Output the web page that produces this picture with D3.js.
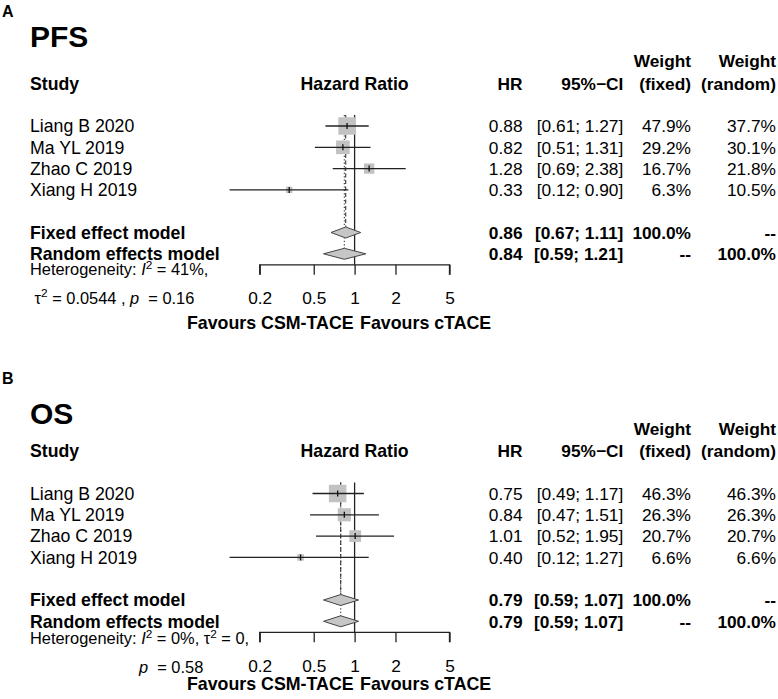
<!DOCTYPE html>
<html><head><meta charset="utf-8">
<script src="https://cdn.jsdelivr.net/npm/d3@7"></script>
<style>body{margin:0;background:#fff}text{font-family:"Liberation Sans",Arial,sans-serif;fill:#000;white-space:pre}</style>
</head><body><svg id="c" width="778" height="699"></svg>
<script>
const studies = ["Liang B 2020","Ma YL 2019","Zhao C 2019","Xiang H 2019"];
const ticks = [0.2,0.5,1,2,5];

const pfsHR = [0.88,0.82,1.28,0.33];
const pfsLo = [0.61,0.51,0.69,0.12];
const pfsHi = [1.27,1.31,2.38,0.90];
const pfsWF = [47.9,29.2,16.7,6.3];
const pfsWR = [37.7,30.1,21.8,10.5];
const pfsFixed = [0.86,0.67,1.11];
const pfsRandom = [0.84,0.59,1.21];

const osHR = [0.75,0.84,1.01,0.40];
const osLo = [0.49,0.47,0.52,0.12];
const osHi = [1.17,1.51,1.95,1.27];
const osWF = [46.3,26.3,20.7,6.6];
const osWR = [46.3,26.3,20.7,6.6];
const osFixed = [0.79,0.59,1.07];
const osRandom = [0.79,0.59,1.07];

const svg = d3.select("#c");
const x = d3.scaleLog().domain([0.2,5]).range([259.7,449.5]);
const f2 = d3.format(".2f"), f1 = d3.format(".1f");
const FS = 17.3, FL = 17.7;

function txt(g, s, xx, cy, opt={}) {
  const fs = opt.size || FS;
  return g.append("text").attr("x", xx).attr("y", cy + 0.36*fs)
    .attr("font-size", fs).attr("font-weight", opt.bold ? "bold" : null)
    .attr("text-anchor", opt.anchor || "start").text(s);
}

function panel(off, letter, letterY, title, titleY, favY, HR, Lo, Hi, WF, WR, FX, RD, het) {
  const g = svg.append("g");
  const y = d3.scaleLinear().domain([0,1]).range([126+off, 147.3+off]);
  txt(g, letter, 2, letterY, {bold:true, size:16});
  txt(g, title, 30, titleY, {bold:true, size:30});
  // headers
  txt(g, "Study", 30, y(-2), {bold:true, size:FL});
  txt(g, "Hazard Ratio", x(1), y(-2), {bold:true, anchor:"middle", size:FL});
  txt(g, "HR", 522.5, y(-2), {bold:true, anchor:"end"});
  txt(g, "95%\u2212CI", 623.3, y(-2), {bold:true, anchor:"end"});
  txt(g, "Weight", 691, y(-3.05), {bold:true, anchor:"end"});
  txt(g, "(fixed)", 691, y(-2), {bold:true, anchor:"end"});
  txt(g, "Weight", 776, y(-3.05), {bold:true, anchor:"end"});
  txt(g, "(random)", 776, y(-2), {bold:true, anchor:"end"});

  const top = y(0) - 11;
  const axisY = y(6) + 11;
  // reference lines
  g.append("line").attr("x1", x(1)).attr("x2", x(1)).attr("y1", top).attr("y2", axisY)
    .attr("stroke", "#222").attr("stroke-width", 1.3);
  g.append("line").attr("x1", x(FX[0])).attr("x2", x(FX[0])).attr("y1", top).attr("y2", y(5)-5.5)
    .attr("stroke", "#333").attr("stroke-width", 1.1).attr("stroke-dasharray", "4,2.5");
  g.append("line").attr("x1", x(RD[0])).attr("x2", x(RD[0])).attr("y1", top).attr("y2", y(6)-5.5)
    .attr("stroke", "#333").attr("stroke-width", 1.1).attr("stroke-dasharray", "1.2,2.2");

  const maxW = d3.max(WF);
  studies.forEach((s, i) => {
    const cy = y(i);
    txt(g, s, 30, cy, {size:FL});
    txt(g, f2(HR[i]), 522.5, cy, {anchor:"end"});
    txt(g, "[" + f2(Lo[i]) + "; " + f2(Hi[i]) + "]", 623.3, cy, {anchor:"end"});
    txt(g, f1(WF[i]) + "%", 691, cy, {anchor:"end"});
    txt(g, f1(WR[i]) + "%", 776, cy, {anchor:"end"});
    const side = 17.5 * Math.sqrt(WF[i] / maxW);
    g.append("rect").attr("x", x(HR[i]) - side/2).attr("y", cy - side/2)
      .attr("width", side).attr("height", side).attr("fill", "#c2c2c2");
    g.append("line").attr("x1", x(Lo[i])).attr("x2", x(Hi[i])).attr("y1", cy).attr("y2", cy)
      .attr("stroke", "#222").attr("stroke-width", 1.3);
    g.append("line").attr("x1", x(HR[i])).attr("x2", x(HR[i])).attr("y1", cy-3).attr("y2", cy+3)
      .attr("stroke", "#111").attr("stroke-width", 1.3);
  });

  const models = [["Fixed effect model", FX, 5, "100.0%", "--"], ["Random effects model", RD, 6, "--", "100.0%"]];
  models.forEach(([name, v, r, wf, wr]) => {
    const cy = y(r);
    txt(g, name, 30, cy, {bold:true, size:FL});
    txt(g, f2(v[0]), 522.5, cy, {bold:true, anchor:"end"});
    txt(g, "[" + f2(v[1]) + "; " + f2(v[2]) + "]", 623.3, cy, {bold:true, anchor:"end"});
    txt(g, wf, 691, cy, {bold:true, anchor:"end"});
    txt(g, wr, 776, cy, {bold:true, anchor:"end"});
    const h = 5.5;
    g.append("path")
      .attr("d", `M${x(v[1])},${cy} L${x(v[0])},${cy-h} L${x(v[2])},${cy} L${x(v[0])},${cy+h} Z`)
      .attr("fill", "#c6c6c6").attr("stroke", "#444").attr("stroke-width", 1);
  });

  // axis
  const ax = g.append("g").attr("transform", `translate(0,${axisY})`)
    .call(d3.axisBottom(x).tickValues(ticks).tickFormat(d3.format("")).tickSize(10).tickPadding(10));
  ax.select(".domain").attr("stroke", "#222").attr("stroke-width", 1.3)
    .attr("d", `M${x(0.2)},10V0H${x(5)}V10`);
  ax.selectAll(".tick line").attr("stroke", "#222").attr("stroke-width", 1.3);
  ax.selectAll(".tick text").attr("font-size", FS).attr("font-family", '"Liberation Sans",Arial,sans-serif')
    .attr("fill", "#000").attr("dy", null).attr("y", 0).attr("transform", `translate(0,${298+off-axisY+0.36*FS})`);

  txt(g, "Favours CSM-TACE", x(1) - 1, favY, {bold:true, anchor:"end", size:17.8});
  txt(g, "Favours cTACE", x(1) + 5.5, favY, {bold:true, size:17.8});

  het(g, off);
}

function hetText(g, xx, cy, parts) {
  const fs = 16.4;
  const t = g.append("text").attr("x", xx).attr("y", cy + 0.36*fs).attr("font-size", fs);
  parts.forEach(p => {
    const ts = t.append("tspan").text(p.t);
    if (p.i) ts.attr("font-style", "italic");
    if (p.sup) ts.attr("font-size", fs*0.72).attr("dy", -6.5);
    if (p.down) ts.attr("dy", 6.5);
  });
}

panel(0, "A", 11, "PFS", 36, 322.5, pfsHR, pfsLo, pfsHi, pfsWF, pfsWR, pfsFixed, pfsRandom, (g, off) => {
  hetText(g, 30, 269.5 + off, [{t:"Heterogeneity: "},{t:"I",i:true},{t:"2",sup:true},{t:" = 41%,",down:true}]);
  hetText(g, 30, 298 + off, [{t:" \u03c4"},{t:"2",sup:true},{t:" = 0.0544 , ",down:true},{t:"p",i:true},{t:"  = 0.16"}]);
});
panel(367.5, "B", 378.5, "OS", 413, 683.3, osHR, osLo, osHi, osWF, osWR, osFixed, osRandom, (g, off) => {
  hetText(g, 30, 271 + off, [{t:"Heterogeneity: "},{t:"I",i:true},{t:"2",sup:true},{t:" = 0%, \u03c4",down:true},{t:"2",sup:true},{t:" = 0,",down:true}]);
  hetText(g, 139, 300 + off, [{t:"p",i:true},{t:"  = 0.58"}]);
});
</script></body></html>
